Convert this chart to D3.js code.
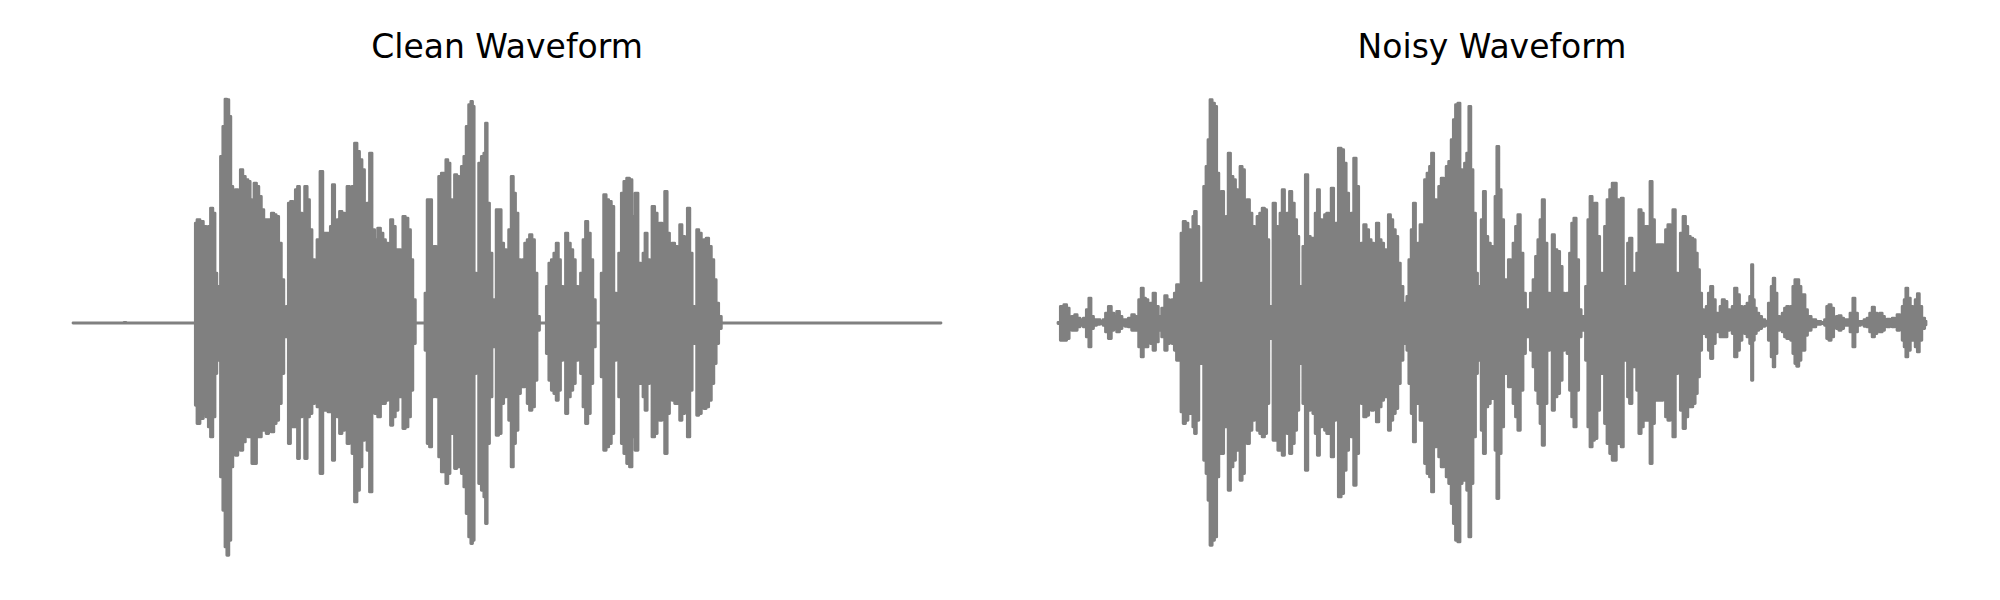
<!DOCTYPE html>
<html>
<head>
<meta charset="utf-8">
<script src="https://cdn.jsdelivr.net/npm/d3@7/dist/d3.min.js"></script>
<style>
  html, body { margin: 0; padding: 0; background: #ffffff; }
  svg { display: block; }
</style>
</head>
<body>
<script>
// Panel titles
const titles = ["Clean Waveform", "Noisy Waveform"];

// Envelope of each waveform: [frame, peak amplitude (upper), trough amplitude (lower)]
const cleanEnvelope = [
[0,0,0],[150,0,0],[156,6,-4],[162,0,0],[351,0,0],[366,0,0],
[368,304,-251],[376,314,-306],[386,309,-291],[396,294,-276],[403,284,-286],[409,294,-316],[416,349,-346],[423,334,-286],[429,154,-156],[434,24,-46],[439,114,-116],
[446,504,-466],[453,594,-566],[459,676,-676],[464,674,-701],[471,624,-656],[476,414,-436],[483,364,-396],[491,404,-401],[498,294,-286],
[506,464,-386],[513,444,-361],[521,434,-336],[529,429,-346],[534,374,-306],[539,154,-426],[547,424,-426],[554,414,-346],[561,384,-346],[569,344,-326],
[576,314,-326],[583,314,-336],[591,314,-326],[599,334,-331],[606,329,-306],[613,324,-296],[621,244,-246],[629,134,-156],[636,44,-41],[643,54,-46],
[649,364,-366],[656,369,-286],[663,294,-316],[671,404,-286],[676,414,-411],[683,334,-286],[691,294,-276],[699,414,-411],[706,374,-286],[713,284,-276],[721,194,-246],[728,54,-46],
[736,254,-256],[746,459,-456],[753,274,-266],[761,274,-266],[769,274,-271],[775,294,-266],[781,419,-416],[789,244,-266],[796,314,-286],[803,339,-336],[811,334,-326],[818,294,-286],
[826,414,-366],[833,314,-286],[841,414,-396],[848,544,-541],[856,519,-506],[863,494,-436],[871,464,-356],[878,314,-276],[886,364,-386],[893,514,-511],[901,284,-266],
[909,254,-276],[919,289,-286],[926,274,-246],[934,254,-246],[941,244,-236],[949,204,-226],[956,314,-311],[963,294,-286],[971,224,-266],[979,224,-226],[986,174,-206],
[993,324,-321],[1001,319,-316],[1009,284,-286],[1016,194,-206],[1023,74,-66],[1031,0,0],[1053,0,0],[1059,94,-86],[1066,374,-366],[1073,374,-376],[1079,224,-226],
[1086,234,-216],[1093,224,-226],[1101,444,-406],[1109,454,-451],[1116,334,-326],[1121,494,-486],[1128,484,-456],[1134,374,-336],[1141,254,-286],[1148,449,-441],
[1155,444,-436],[1161,294,-306],[1169,474,-456],[1176,504,-496],[1183,594,-576],[1191,659,-646],[1196,669,-666],[1201,654,-656],[1206,154,-156],[1213,114,-116],
[1221,484,-486],[1229,504,-506],[1236,514,-526],[1239,604,-606],[1246,364,-366],[1253,214,-226],[1261,74,-76],[1266,9,-8],[1273,344,-341],[1281,344,-336],
[1288,244,-246],[1296,224,-226],[1303,214,-196],[1311,284,-296],[1318,444,-436],[1324,394,-366],[1331,334,-326],[1339,194,-216],[1346,54,-66],[1351,194,-196],
[1359,244,-176],[1366,254,-246],[1373,269,-266],[1381,254,-256],[1388,154,-176],[1396,24,-26],[1403,0,0],[1416,0,0],[1424,114,-96],[1431,184,-176],[1439,194,-206],
[1446,214,-216],[1453,244,-236],[1459,194,-206],[1466,114,-116],[1474,9,-11],[1481,274,-276],[1488,244,-226],[1496,224,-206],[1503,194,-186],[1511,114,-116],
[1519,34,-46],[1526,154,-156],[1534,254,-256],[1541,309,-306],[1548,274,-276],[1556,194,-186],[1563,74,-76],[1571,0,0],[1581,0,0],[1588,154,-166],[1596,389,-386],
[1603,374,-376],[1611,369,-366],[1619,354,-336],[1626,94,-116],[1633,54,-66],[1641,214,-226],[1649,394,-366],[1656,429,-396],[1666,439,-426],[1673,434,-436],
[1681,324,-346],[1691,394,-386],[1699,184,-186],[1707,34,-46],[1713,214,-226],[1719,274,-266],[1726,194,-186],[1733,54,-46],[1741,354,-346],[1749,334,-336],
[1756,294,-286],[1763,304,-296],[1771,284,-276],[1779,399,-396],[1786,274,-276],[1793,204,-226],[1801,244,-236],[1809,234,-246],[1817,154,-226],[1823,299,-296],
[1831,264,-276],[1839,194,-226],[1847,349,-346],[1854,214,-206],[1861,54,-66],[1868,34,-46],[1874,284,-281],[1881,274,-276],[1889,244,-246],[1896,254,-261],
[1903,259,-256],[1911,234,-236],[1919,194,-186],[1926,134,-126],[1933,64,-66],[1941,24,-21],[1949,0,0],[2604,0,0]
];

const noisyEnvelope = [
[0,6,-6],[14,54,-56],[21,59,-56],[31,49,-51],[36,14,-21],[46,24,-26],[54,29,-26],[61,19,-16],[71,14,-11],[81,19,-16],[89,44,-46],[96,79,-76],[102,24,-21],
[111,14,-11],[121,14,-8],[131,9,-6],[139,14,-11],[146,34,-31],[156,54,-51],[164,34,-26],[171,24,-21],[181,39,-31],[188,24,-21],[196,14,-11],[206,14,-14],
[216,19,-16],[226,29,-26],[233,24,-26],[238,14,-11],[246,74,-76],[253,109,-106],[259,79,-76],[266,74,-76],[274,34,-36],[281,64,-66],[289,94,-86],[296,54,-61],
[306,24,-26],[316,49,-46],[324,86,-86],[331,74,-66],[338,34,-31],[346,74,-66],[352,94,-86],[359,119,-116],[366,74,-66],[372,274,-271],[379,309,-306],[386,304,-296],
[394,284,-276],[401,244,-246],[408,324,-316],[411,339,-336],[419,294,-296],[426,114,-116],[433,124,-126],[441,414,-416],[447,474,-456],[453,554,-536],[459,674,-671],
[466,664,-656],[473,654,-646],[479,454,-466],[486,354,-356],[493,399,-396],[501,274,-286],[507,324,-316],[514,514,-506],[521,444,-436],[529,434,-416],[536,404,-386],
[543,274,-276],[549,474,-476],[556,464,-456],[563,294,-296],[571,374,-366],[578,334,-326],[586,294,-296],[593,284,-266],[601,324,-326],[609,334,-336],[616,349,-346],
[623,344,-336],[629,254,-246],[636,54,-51],[641,54,-51],[649,364,-356],[656,294,-286],[663,284,-386],[669,334,-286],[676,404,-401],[683,314,-316],[691,334,-336],
[698,399,-396],[705,364,-366],[713,314,-326],[719,264,-266],[726,114,-126],[731,54,-56],[738,234,-246],[746,449,-446],[753,264,-266],[761,259,-256],[768,259,-276],
[775,334,-336],[781,404,-401],[788,314,-316],[796,274,-276],[803,329,-326],[809,334,-336],[816,324,-326],[823,409,-406],[831,294,-296],[836,304,-286],[846,529,-526],
[853,524,-516],[861,484,-446],[868,394,-386],[876,314,-296],[883,334,-346],[891,499,-491],[898,414,-396],[906,234,-236],[913,244,-246],[921,299,-286],[928,284,-281],
[936,254,-246],[943,244,-266],[951,214,-236],[959,304,-301],[966,254,-256],[973,244,-236],[981,224,-226],[988,154,-166],[994,329,-326],[1001,314,-296],[1008,284,-276],
[1016,264,-261],[1023,184,-186],[1031,114,-116],[1039,64,-66],[1044,24,-36],[1049,84,-86],[1056,194,-186],[1063,284,-276],[1069,364,-361],[1076,234,-226],
[1083,244,-246],[1089,299,-296],[1096,254,-246],[1103,434,-426],[1111,454,-456],[1118,474,-466],[1123,514,-511],[1131,374,-376],[1138,324,-326],[1146,414,-406],
[1153,439,-436],[1161,334,-326],[1168,474,-466],[1176,489,-486],[1183,554,-546],[1189,614,-606],[1196,659,-656],[1203,664,-661],[1209,464,-486],[1216,414,-436],
[1223,484,-476],[1229,514,-506],[1236,654,-646],[1241,464,-486],[1249,334,-346],[1256,154,-156],[1261,54,-56],[1266,114,-116],[1273,314,-326],[1279,399,-396],
[1286,264,-256],[1293,244,-246],[1301,234,-231],[1308,214,-216],[1314,384,-386],[1319,534,-531],[1326,404,-396],[1333,314,-316],[1341,134,-156],[1348,34,-46],
[1354,194,-196],[1361,154,-166],[1369,244,-246],[1376,294,-286],[1383,329,-326],[1391,214,-206],[1399,94,-96],[1406,24,-26],[1413,44,-46],[1421,94,-86],
[1429,134,-136],[1436,204,-206],[1443,254,-246],[1449,314,-306],[1456,374,-371],[1463,244,-246],[1471,94,-86],[1479,64,-66],[1486,269,-266],[1493,224,-226],
[1501,219,-216],[1509,174,-176],[1516,94,-86],[1523,24,-26],[1531,94,-96],[1538,214,-206],[1544,304,-286],[1551,319,-316],[1558,194,-206],[1566,44,-46],
[1573,24,-21],[1579,24,-26],[1586,114,-116],[1593,314,-316],[1599,384,-376],[1606,354,-356],[1613,364,-351],[1621,264,-266],[1629,154,-156],[1636,74,-66],
[1643,294,-306],[1651,374,-366],[1659,404,-396],[1666,424,-416],[1671,424,-416],[1679,374,-366],[1686,364,-346],[1693,379,-376],[1699,114,-116],[1706,54,-56],
[1711,244,-226],[1718,259,-246],[1726,154,-136],[1733,54,-46],[1739,214,-206],[1746,344,-336],[1753,334,-316],[1759,284,-286],[1766,294,-296],[1773,234,-226],
[1779,429,-426],[1786,314,-306],[1793,234,-236],[1801,239,-236],[1811,239,-236],[1819,194,-186],[1826,284,-286],[1833,299,-296],[1841,194,-196],[1848,344,-346],
[1856,154,-156],[1863,44,-46],[1871,274,-266],[1879,324,-321],[1886,294,-286],[1893,264,-256],[1901,259,-256],[1908,254,-246],[1915,214,-216],[1921,164,-166],
[1928,94,-86],[1934,44,-36],[1941,24,-21],[1948,54,-46],[1954,94,-86],[1961,114,-111],[1968,74,-66],[1976,34,-31],[1983,19,-21],[1989,54,-46],[1996,74,-46],
[2003,69,-46],[2011,44,-26],[2019,19,-16],[2026,54,-36],[2033,109,-106],[2041,89,-86],[2048,54,-56],[2056,34,-26],[2063,54,-36],[2071,64,-46],[2079,84,-66],
[2082,179,-176],[2087,74,-56],[2091,49,-36],[2099,34,-26],[2106,24,-21],[2116,14,-14],[2126,9,-11],[2136,64,-56],[2143,114,-106],[2148,139,-136],[2153,94,-96],
[2161,24,-26],[2169,19,-21],[2176,34,-31],[2183,49,-46],[2189,54,-51],[2195,34,-31],[2201,54,-56],[2208,114,-96],[2213,134,-126],[2219,134,-134],[2226,114,-116],
[2232,89,-86],[2238,89,-86],[2244,44,-41],[2253,24,-26],[2266,14,-16],[2281,9,-8],[2296,6,-6],[2303,14,-11],[2309,54,-51],[2316,59,-56],[2323,49,-46],[2331,14,-16],
[2339,24,-21],[2346,26,-26],[2353,19,-21],[2361,14,-11],[2371,14,-11],[2381,34,-31],[2388,79,-76],[2394,34,-31],[2403,9,-11],[2413,9,-8],[2423,14,-14],[2431,19,-16],
[2439,34,-31],[2446,52,-46],[2453,34,-36],[2461,14,-16],[2469,34,-31],[2476,24,-26],[2483,14,-14],[2491,16,-16],[2499,14,-11],[2506,19,-16],[2513,9,-14],[2521,29,-26],
[2529,14,-14],[2536,54,-56],[2541,74,-76],[2546,109,-106],[2553,79,-86],[2561,54,-56],[2568,24,-31],[2575,74,-76],[2581,92,-91],[2587,54,-56],[2596,19,-21],[2604,10,-10]
];

const frameExtent = [0, 2604];
const ampExtent = [-690, 690];

const W = 2000, H = 600;
const svg = d3.select("body").append("svg")
  .attr("width", W).attr("height", H)
  .attr("viewBox", `0 0 ${W} ${H}`);

svg.append("rect").attr("width", W).attr("height", H).attr("fill", "#ffffff");

const panels = [
  { title: titles[0], data: cleanEnvelope, x0: 73, x1: 941 },
  { title: titles[1], data: noisyEnvelope, x0: 1058, x1: 1926 }
];

const lineW = 2.8;
const y = d3.scaleLinear().domain(ampExtent).range([553, 93]);
// half line width expressed in amplitude units, so the stroked outline matches the drawn envelope
const edge = (lineW / 2) / (y(0) - y(1));

panels.forEach(p => {
  const x = d3.scaleLinear().domain(frameExtent).range([p.x0, p.x1]);
  const g = svg.append("g");

  const area = d3.area()
    .x(d => x(d[0]))
    .y1(d => y(Math.max(0, d[1] - edge)))
    .y0(d => y(Math.min(0, d[2] + edge)))
    .curve(d3.curveStep);

  g.append("path")
    .datum(p.data)
    .attr("d", area)
    .attr("fill", "#808080")
    .attr("stroke", "#808080")
    .attr("stroke-width", lineW)
    .attr("stroke-linejoin", "round");

  g.append("text")
    .attr("x", (p.x0 + p.x1) / 2)
    .attr("y", 58)
    .attr("text-anchor", "middle")
    .attr("font-family", "'DejaVu Sans', sans-serif")
    .attr("font-size", 33)
    .attr("fill", "#000000")
    .text(p.title);
});
</script>
</body>
</html>
